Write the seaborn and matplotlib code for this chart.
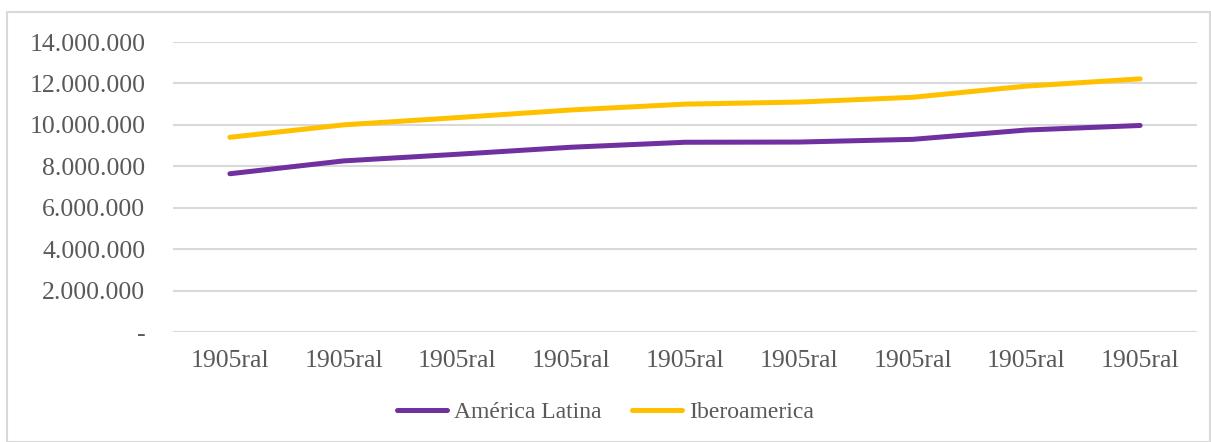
import numpy as np
import pandas as pd
import seaborn as sns
import matplotlib.pyplot as plt
from matplotlib.patches import Rectangle

# data
categories = ["1905ral"] * 9
america_latina = [7.64e6, 8.26e6, 8.58e6, 8.92e6, 9.16e6, 9.17e6, 9.30e6, 9.75e6, 9.97e6]
iberoamerica = [9.40e6, 10.00e6, 10.35e6, 10.72e6, 11.00e6, 11.10e6, 11.33e6, 11.87e6, 12.22e6]
series_names = ["América Latina", "Iberoamerica"]
yticks = [0, 2e6, 4e6, 6e6, 8e6, 10e6, 12e6, 14e6]

def fmt(v):
    if v == 0:
        return "-"
    return f"{int(v):,}".replace(",", ".")

pos = np.arange(len(categories))
df = pd.DataFrame({
    "pos": np.concatenate([pos, pos]),
    "valor": america_latina + iberoamerica,
    "serie": [series_names[0]] * len(pos) + [series_names[1]] * len(pos),
})

sns.set_style("white")
plt.rcParams["font.family"] = ["Liberation Serif", "DejaVu Serif"]
text_col = "#595959"
fs = 18.5

fig = plt.figure(figsize=(12.11, 4.42), dpi=100)
ax = fig.add_axes([173 / 1211, 1 - 332 / 442, (1197 - 173) / 1211, (332 - 42) / 442])

sns.lineplot(data=df, x="pos", y="valor", hue="serie",
             palette={series_names[0]: "#7030A0", series_names[1]: "#FFC000"},
             linewidth=3.6, solid_capstyle="round", ax=ax, legend=False)

ax.set_xlim(-0.5, len(categories) - 0.5)
ax.set_ylim(0, 14e6)
ax.set_yticks(yticks)
ax.set_yticklabels([fmt(v) for v in yticks], fontsize=fs, color=text_col)
ax.set_xticks(pos)
ax.set_xticklabels(categories, fontsize=fs, color=text_col)
ax.tick_params(axis="both", length=0)
ax.tick_params(axis="x", pad=13)
ax.tick_params(axis="y", pad=20)
ax.yaxis.grid(True, color="#d9d9d9", linewidth=1.5)
ax.set_axisbelow(True)
for s in ax.spines.values():
    s.set_visible(False)
ax.set_xlabel("")
ax.set_ylabel("")

handles = [plt.Line2D([], [], color="#7030A0", linewidth=3.6, solid_capstyle="round"),
           plt.Line2D([], [], color="#FFC000", linewidth=3.6, solid_capstyle="round")]
leg = fig.legend(handles, series_names, loc="center", bbox_to_anchor=(0.5, 1 - 412 / 442),
                 ncol=2, frameon=False, fontsize=17, handlelength=2.1,
                 handletextpad=0.3, columnspacing=1.3)
for t in leg.get_texts():
    t.set_color(text_col)

fig.patches.append(Rectangle((7 / 1211, 0), 1 - 8 / 1211, 1 - 12 / 442,
                             transform=fig.transFigure, fill=False,
                             edgecolor="#d9d9d9", linewidth=1.5))

fig.savefig("out.png", dpi=100)
